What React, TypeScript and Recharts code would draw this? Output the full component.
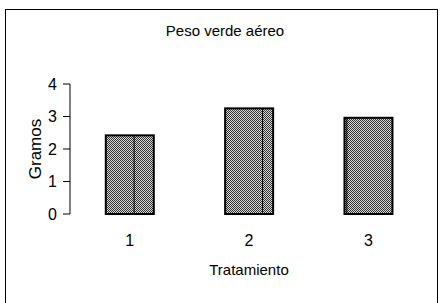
import React from 'react';
import { BarChart, Bar, XAxis, YAxis, Label } from 'recharts';

const categories = ['1', '2', '3'];
const pesoValues = [2.42, 3.25, 2.96];
const yTicks = [0, 1, 2, 3, 4];

const data = categories.map((name, i) => ({ name, peso: pesoValues[i] }));

// thin inner lines seen inside the bars of the original scan (fraction of bar width)
const innerLines = [0.59, 0.78, 0.05];

const FONT = '"Liberation Sans", Arial, sans-serif';

const HatchedBar = (props: any) => {
  const { x, y, width, height, index } = props;
  const lx = x + width * innerLines[index];
  return (
    <g>
      <rect x={x} y={y} width={width} height={height} fill="url(#dots)" stroke="#000" strokeWidth={2} />
      <line x1={lx} y1={y} x2={lx} y2={y + height} stroke="#000" strokeWidth={1} />
    </g>
  );
};

export default function App() {
  return (
    <div style={{ position: 'relative', width: 440, height: 303, background: '#fff', fontFamily: FONT }}>
      <style>{`body{margin:0}`}</style>
      <div
        style={{
          position: 'absolute',
          left: 5,
          top: 9,
          width: 431,
          height: 310,
          border: '1px solid #000',
        }}
      />
      <div
        style={{
          position: 'absolute',
          top: 22,
          left: 0,
          width: 450,
          textAlign: 'center',
          fontSize: 15,
          color: '#000',
        }}
      >
        Peso verde aéreo
      </div>
      <div style={{ position: 'absolute', left: 0, top: 0 }}>
        <BarChart
          width={440}
          height={303}
          data={data}
          margin={{ top: 84, right: 12, left: 0, bottom: 0 }}
          barCategoryGap="30%"
        >
          <defs>
            <pattern id="dots" width={2} height={2} patternUnits="userSpaceOnUse">
              <rect x={0} y={0} width={2} height={2} fill="#d8d8d8" />
              <rect x={0} y={0} width={1} height={1} fill="#333" />
              <rect x={1} y={1} width={1} height={1} fill="#333" />
            </pattern>
          </defs>
          <XAxis
            xAxisId="edges"
            type="number"
            domain={[0, 3]}
            ticks={[0, 1, 2, 3]}
            tick={false}
            tickSize={6}
            height={0}
            stroke="#000"
            axisLine={{ stroke: '#000', strokeWidth: 1 }}
            tickLine={{ stroke: '#000' }}
          />
          <XAxis
            dataKey="name"
            height={89}
            axisLine={false}
            tickLine={false}
            tickSize={6}
            tickMargin={15}
            tick={{ fill: '#000', fontSize: 16, fontFamily: FONT }}
          >
            <Label
              value="Tratamiento"
              position="insideBottom"
              offset={28}
              style={{ fill: '#000', fontSize: 15, fontFamily: FONT }}
            />
          </XAxis>
          <YAxis
            width={70}
            domain={[0, 4]}
            ticks={yTicks}
            interval={0}
            tickSize={7}
            tickMargin={6}
            stroke="#000"
            tick={{ fill: '#000', fontSize: 16, fontFamily: FONT }}
          >
            <Label
              value="Gramos"
              angle={-90}
              position="insideLeft"
              offset={35}
              style={{ fill: '#000', fontSize: 17, fontFamily: FONT, textAnchor: 'middle' }}
            />
          </YAxis>
          <Bar dataKey="peso" shape={HatchedBar} isAnimationActive={false} />
        </BarChart>
      </div>
    </div>
  );
}
